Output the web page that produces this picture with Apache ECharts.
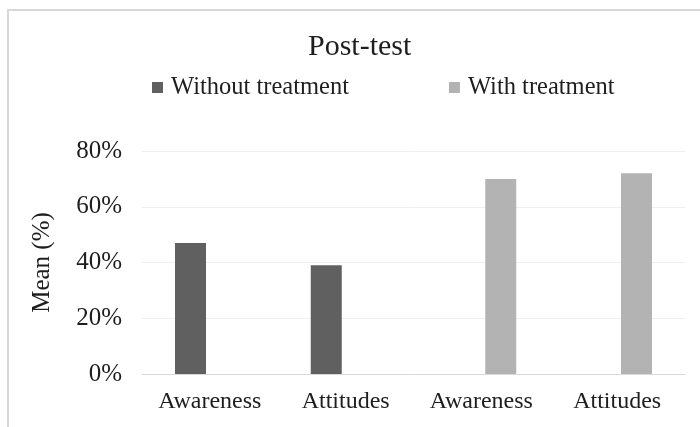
<!DOCTYPE html>
<html>
<head>
<meta charset="utf-8">
<script src="https://cdn.jsdelivr.net/npm/echarts@6/dist/echarts.min.js"></script>
<style>
html,body{margin:0;padding:0;background:#fff;}
#c{width:700px;height:427px;}
</style>
</head>
<body>
<div id="c"></div>
<script>
var categories = ["Awareness", "Attitudes", "Awareness", "Attitudes"];
var withoutTreatment = [47, 39, null, null];
var withTreatment = [null, null, 70, 72];
var yTicks = { min: 0, max: 80, interval: 20 };
var seriesNames = ["Without treatment", "With treatment"];

var font = "'Liberation Serif', 'Times New Roman', serif";
var chart = echarts.init(document.getElementById('c'), null, { renderer: 'canvas' });
chart.setOption({
  animation: false,
  backgroundColor: '#ffffff',
  graphic: [{
    type: 'polyline',
    shape: { points: [[8, 427], [8, 10], [700, 10]] },
    style: { stroke: '#d9d9d9', lineWidth: 2, fill: null },
    silent: true
  }],
  title: {
    text: 'Post-test',
    left: 308,
    top: 32,
    padding: 0,
    textStyle: { fontFamily: font, fontSize: 30, fontWeight: 'normal', color: '#1e1e1e' }
  },
  legend: {
    data: seriesNames,
    left: 152,
    top: 75,
    padding: 0,
    itemWidth: 11,
    itemHeight: 11,
    itemGap: 100,
    icon: 'rect',
    textStyle: { fontFamily: font, fontSize: 24.5, color: '#1e1e1e', padding: [0, 0, 0, 3] }
  },
  grid: { left: 142, right: 15, top: 151, bottom: 53, containLabel: false },
  xAxis: {
    type: 'category',
    data: categories,
    axisLine: { show: true, lineStyle: { color: '#d9d9d9', width: 1 } },
    axisTick: { show: false },
    axisLabel: { fontFamily: font, fontSize: 24, color: '#1e1e1e', margin: 16, interval: 0 }
  },
  yAxis: {
    type: 'value',
    min: yTicks.min,
    max: yTicks.max,
    interval: yTicks.interval,
    name: 'Mean (%)',
    nameLocation: 'middle',
    nameRotate: 90,
    nameGap: 87,
    nameTextStyle: { fontFamily: font, fontSize: 25, color: '#1e1e1e' },
    axisLine: { show: false },
    axisTick: { show: false },
    splitLine: { lineStyle: { color: '#efefef', width: 1 } },
    axisLabel: { fontFamily: font, fontSize: 25, color: '#1e1e1e', margin: 20, formatter: '{value}%' }
  },
  series: [
    {
      name: seriesNames[0], type: 'bar', data: withoutTreatment,
      barWidth: 31, barGap: '25%',
      itemStyle: { color: '#606060' }
    },
    {
      name: seriesNames[1], type: 'bar', data: withTreatment,
      barWidth: 31, barGap: '25%',
      itemStyle: { color: '#b3b3b3' }
    }
  ]
});
</script>
</body>
</html>
